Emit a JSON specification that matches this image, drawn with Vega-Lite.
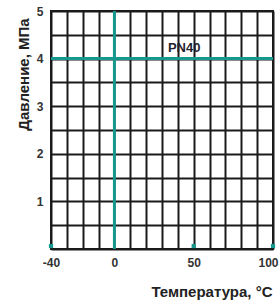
{
  "$schema": "https://vega.github.io/schema/vega-lite/v6.json",
  "width": 222,
  "height": 238,
  "autosize": "none",
  "padding": {"left": 51, "top": 11, "right": 6, "bottom": 53},
  "background": "white",
  "config": {
    "view": {"stroke": "#1a1a1a", "strokeWidth": 2},
    "font": "Liberation Sans"
  },
  "datasets": {
    "lines": [
      {"s": "PN40", "t": -40, "p": 4},
      {"s": "PN40", "t": 100, "p": 4},
      {"s": "zero", "t": 0, "p": 0},
      {"s": "zero", "t": 0, "p": 5}
    ],
    "dots": [
      {"t": -40, "p": 0},
      {"t": 50, "p": 0},
      {"t": 100, "p": 0}
    ],
    "labels": [
      {"t": 44, "p": 4.22, "label": "PN40"}
    ]
  },
  "encoding": {
    "x": {
      "field": "t", "type": "quantitative",
      "scale": {"domain": [-40, 100], "nice": false, "zero": false},
      "axis": {
        "values": [-40, -30, -20, -10, 0, 10, 20, 30, 40, 50, 60, 70, 80, 90, 100],
        "grid": true, "gridColor": "#1a1a1a", "gridWidth": 2, "gridOpacity": 1,
        "ticks": false, "domain": false,
        "labelExpr": "indexof([-40, 0, 50, 100], datum.value) >= 0 ? '' + datum.value : ''",
        "labelFlush": false, "labelOverlap": false, "labelBound": false,
        "labelAlign": {"condition": {"test": "datum.value == 100", "value": "right"}, "value": "center"},
        "labelOffset": {"condition": {"test": "datum.value == 100", "value": 5}, "value": 0},
        "labelFontSize": 12, "labelFontWeight": "bold", "labelColor": "#333333",
        "labelPadding": 8,
        "title": "Температура, °C",
        "titleFontSize": 15, "titleFontWeight": "bold", "titleColor": "#222222",
        "titleAlign": "right", "titleBaseline": "alphabetic",
        "titleX": 221, "titleY": 47
      }
    },
    "y": {
      "field": "p", "type": "quantitative",
      "scale": {"domain": [0, 5], "nice": false},
      "axis": {
        "values": [0, 0.5, 1, 1.5, 2, 2.5, 3, 3.5, 4, 4.5, 5],
        "grid": true, "gridColor": "#1a1a1a", "gridWidth": 2, "gridOpacity": 1,
        "ticks": false, "domain": false,
        "labelExpr": "datum.value >= 1 && datum.value % 1 == 0 ? '' + datum.value : ''",
        "labelFlush": false, "labelOverlap": false, "labelBound": false,
        "labelFontSize": 12, "labelFontWeight": "bold", "labelColor": "#333333",
        "labelPadding": 8,
        "title": "Давление, МПа",
        "titleFontSize": 15, "titleFontWeight": "bold", "titleColor": "#222222",
        "titleAlign": "center", "titleBaseline": "alphabetic", "titleAngle": -90,
        "titleX": -23, "titleY": 63
      }
    }
  },
  "layer": [
    {
      "data": {"name": "lines"},
      "mark": {"type": "line", "color": "#17988f", "strokeWidth": 3},
      "encoding": {
        "detail": {"field": "s"}
      }
    },
    {
      "data": {"name": "dots"},
      "mark": {"type": "point", "shape": "square", "filled": true, "size": 18, "color": "#17988f", "opacity": 1, "yOffset": -3}
    },
    {
      "data": {"name": "labels"},
      "mark": {"type": "text", "fontSize": 13, "fontWeight": "bold", "color": "#1f1f2e", "align": "center", "baseline": "middle"},
      "encoding": {
        "text": {"field": "label"}
      }
    }
  ]
}
